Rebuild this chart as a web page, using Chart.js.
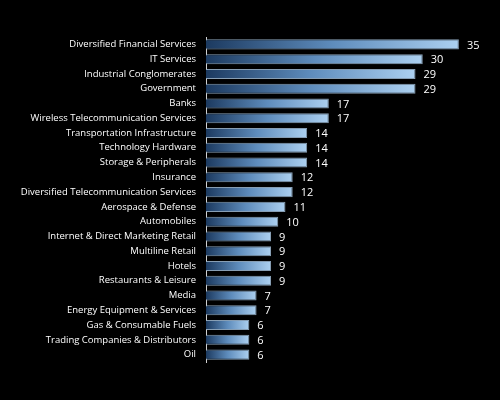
<!DOCTYPE html>
<html>
<head>
<meta charset="utf-8">
<script src="https://cdn.jsdelivr.net/npm/chart.js@4"></script>
<style>
    html, body { margin: 0; padding: 0; background: #000; }
    #wrap { width: 500px; height: 400px; }
</style>
</head>
<body>
<div id="wrap"><canvas id="industries"></canvas></div>
<script>
    // Chart data
    var industries = ["Diversified Financial Services", "IT Services", "Industrial Conglomerates", "Government",
        "Banks", "Wireless Telecommunication Services", "Transportation Infrastructure", "Technology Hardware",
        "Storage & Peripherals", "Insurance", "Diversified Telecommunication Services", "Aerospace & Defense",
        "Automobiles", "Internet & Direct Marketing Retail", "Multiline Retail", "Hotels", "Restaurants & Leisure",
        "Media", "Energy Equipment & Services", "Gas & Consumable Fuels", "Trading Companies & Distributors", "Oil"];
    var counts = [35, 30, 29, 29, 17, 17, 14, 14, 14, 12, 12, 11, 10, 9, 9, 9, 9, 7, 7, 6, 6, 6];

    // Gradient per bar, dark at the base, light at the tip
    function barGradient(context) {
        var chart = context.chart;
        if (!chart.chartArea) return "#5f8fc0";
        var xScale = chart.scales.x;
        var x0 = xScale.getPixelForValue(0);
        var x1 = xScale.getPixelForValue(context.raw);
        var g = chart.ctx.createLinearGradient(x0, 0, x1, 0);
        g.addColorStop(0, "#1c3a60");
        g.addColorStop(0.5, "#5e8cbc");
        g.addColorStop(1, "#acd0f0");
        return g;
    }

    // Value labels at the end of each bar
    var valueLabels = {
        id: "valueLabels",
        afterDatasetsDraw: function (chart) {
            var ctx = chart.ctx;
            var meta = chart.getDatasetMeta(0);
            ctx.save();
            ctx.fillStyle = "#ffffff";
            ctx.font = "11px 'Open Sans'";
            ctx.textAlign = "left";
            ctx.textBaseline = "middle";
            meta.data.forEach(function (bar, i) {
                ctx.fillText(counts[i], bar.x + 8, bar.y + 1);
            });
            ctx.restore();
        }
    };

    new Chart(document.getElementById("industries"), {
        type: "bar",
        data: {
            labels: industries,
            datasets: [{
                data: counts,
                backgroundColor: barGradient,
                borderColor: "rgba(150,175,200,0.9)",
                borderWidth: 1,
                borderSkipped: "start",
                categoryPercentage: 1,
                barPercentage: 0.68
            }]
        },
        options: {
            indexAxis: "y",
            responsive: true,
            maintainAspectRatio: false,
            animation: false,
            layout: { padding: { top: 37, bottom: 38, right: 5, left: 0 } },
            plugins: {
                legend: { display: false },
                tooltip: { enabled: false }
            },
            scales: {
                x: {
                    display: false,
                    min: 0,
                    max: 40
                },
                y: {
                    grid: { display: false, drawTicks: false },
                    border: { display: true, color: "#d0d0d0", width: 1 },
                    ticks: {
                        color: "#ffffff",
                        padding: 10,
                        font: { family: "'Open Sans'", size: 9.5 }
                    },
                    afterFit: function (scale) { scale.width = 206; }
                }
            }
        },
        plugins: [valueLabels]
    });
</script>
</body>
</html>
